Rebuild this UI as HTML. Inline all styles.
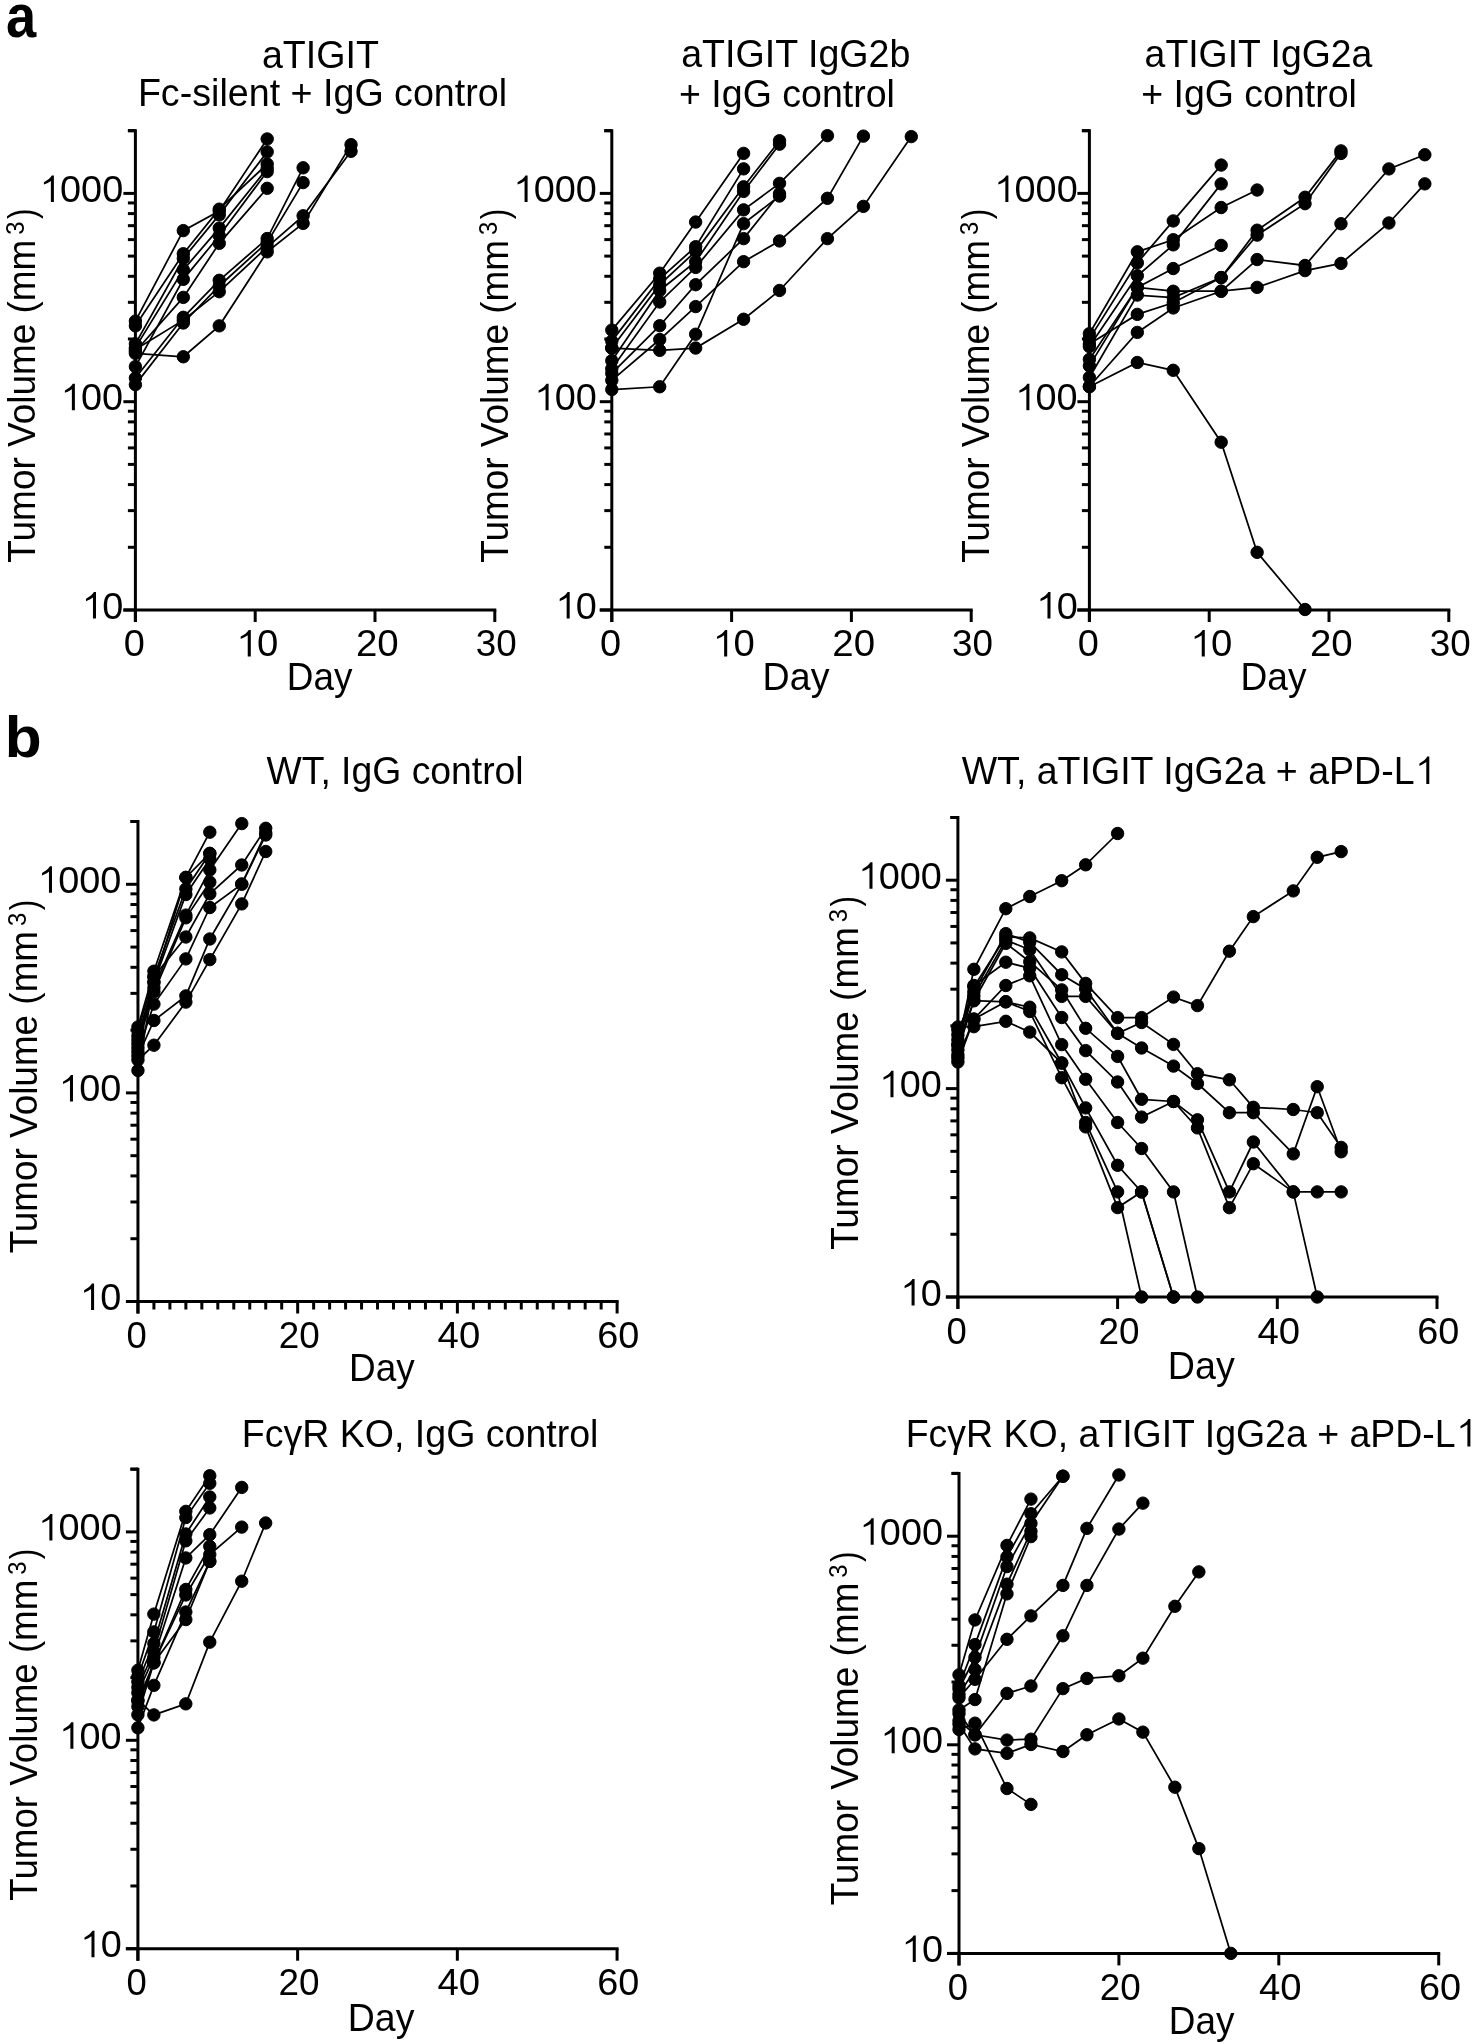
<!DOCTYPE html>
<html><head><meta charset="utf-8"><style>
html,body{margin:0;padding:0;background:#fff;overflow:hidden;width:1476px;height:2044px;}
svg{display:block;will-change:transform;}
text{font-family:"Liberation Sans",sans-serif;fill:#000;}
</style></head><body>
<svg width="1476" height="2044" viewBox="0 0 1476 2044">
<rect width="1476" height="2044" fill="#fff"/>
<g stroke="#000" fill="#000" stroke-linecap="butt">
<path d="M135.40,129.20 V622.00" stroke-width="3.0" fill="none"/>
<path d="M123.40,610.00 H496.30" stroke-width="3.0" fill="none"/>
<line x1="123.40" y1="610.00" x2="135.40" y2="610.00" stroke-width="3"/>
<line x1="127.90" y1="547.30" x2="135.40" y2="547.30" stroke-width="3"/>
<line x1="127.90" y1="510.62" x2="135.40" y2="510.62" stroke-width="3"/>
<line x1="127.90" y1="484.59" x2="135.40" y2="484.59" stroke-width="3"/>
<line x1="127.90" y1="464.40" x2="135.40" y2="464.40" stroke-width="3"/>
<line x1="127.90" y1="447.91" x2="135.40" y2="447.91" stroke-width="3"/>
<line x1="127.90" y1="433.97" x2="135.40" y2="433.97" stroke-width="3"/>
<line x1="127.90" y1="421.89" x2="135.40" y2="421.89" stroke-width="3"/>
<line x1="127.90" y1="411.23" x2="135.40" y2="411.23" stroke-width="3"/>
<line x1="123.40" y1="401.70" x2="135.40" y2="401.70" stroke-width="3"/>
<line x1="127.90" y1="339.00" x2="135.40" y2="339.00" stroke-width="3"/>
<line x1="127.90" y1="302.32" x2="135.40" y2="302.32" stroke-width="3"/>
<line x1="127.90" y1="276.29" x2="135.40" y2="276.29" stroke-width="3"/>
<line x1="127.90" y1="256.10" x2="135.40" y2="256.10" stroke-width="3"/>
<line x1="127.90" y1="239.61" x2="135.40" y2="239.61" stroke-width="3"/>
<line x1="127.90" y1="225.67" x2="135.40" y2="225.67" stroke-width="3"/>
<line x1="127.90" y1="213.59" x2="135.40" y2="213.59" stroke-width="3"/>
<line x1="127.90" y1="202.93" x2="135.40" y2="202.93" stroke-width="3"/>
<line x1="123.40" y1="193.40" x2="135.40" y2="193.40" stroke-width="3"/>
<line x1="127.90" y1="130.70" x2="135.40" y2="130.70" stroke-width="3"/>
<line x1="127.90" y1="130.70" x2="135.40" y2="130.70" stroke-width="3"/>
<line x1="135.40" y1="610.00" x2="135.40" y2="622.00" stroke-width="3"/>
<line x1="255.20" y1="610.00" x2="255.20" y2="622.00" stroke-width="3"/>
<line x1="375.00" y1="610.00" x2="375.00" y2="622.00" stroke-width="3"/>
<line x1="494.80" y1="610.00" x2="494.80" y2="622.00" stroke-width="3"/>
<path d="M611.80,129.20 V622.00" stroke-width="3.0" fill="none"/>
<path d="M599.80,610.00 H972.70" stroke-width="3.0" fill="none"/>
<line x1="599.80" y1="610.00" x2="611.80" y2="610.00" stroke-width="3"/>
<line x1="604.30" y1="547.30" x2="611.80" y2="547.30" stroke-width="3"/>
<line x1="604.30" y1="510.62" x2="611.80" y2="510.62" stroke-width="3"/>
<line x1="604.30" y1="484.59" x2="611.80" y2="484.59" stroke-width="3"/>
<line x1="604.30" y1="464.40" x2="611.80" y2="464.40" stroke-width="3"/>
<line x1="604.30" y1="447.91" x2="611.80" y2="447.91" stroke-width="3"/>
<line x1="604.30" y1="433.97" x2="611.80" y2="433.97" stroke-width="3"/>
<line x1="604.30" y1="421.89" x2="611.80" y2="421.89" stroke-width="3"/>
<line x1="604.30" y1="411.23" x2="611.80" y2="411.23" stroke-width="3"/>
<line x1="599.80" y1="401.70" x2="611.80" y2="401.70" stroke-width="3"/>
<line x1="604.30" y1="339.00" x2="611.80" y2="339.00" stroke-width="3"/>
<line x1="604.30" y1="302.32" x2="611.80" y2="302.32" stroke-width="3"/>
<line x1="604.30" y1="276.29" x2="611.80" y2="276.29" stroke-width="3"/>
<line x1="604.30" y1="256.10" x2="611.80" y2="256.10" stroke-width="3"/>
<line x1="604.30" y1="239.61" x2="611.80" y2="239.61" stroke-width="3"/>
<line x1="604.30" y1="225.67" x2="611.80" y2="225.67" stroke-width="3"/>
<line x1="604.30" y1="213.59" x2="611.80" y2="213.59" stroke-width="3"/>
<line x1="604.30" y1="202.93" x2="611.80" y2="202.93" stroke-width="3"/>
<line x1="599.80" y1="193.40" x2="611.80" y2="193.40" stroke-width="3"/>
<line x1="604.30" y1="130.70" x2="611.80" y2="130.70" stroke-width="3"/>
<line x1="604.30" y1="130.70" x2="611.80" y2="130.70" stroke-width="3"/>
<line x1="611.80" y1="610.00" x2="611.80" y2="622.00" stroke-width="3"/>
<line x1="731.60" y1="610.00" x2="731.60" y2="622.00" stroke-width="3"/>
<line x1="851.40" y1="610.00" x2="851.40" y2="622.00" stroke-width="3"/>
<line x1="971.20" y1="610.00" x2="971.20" y2="622.00" stroke-width="3"/>
<path d="M1089.40,129.20 V622.00" stroke-width="3.0" fill="none"/>
<path d="M1077.40,610.00 H1450.30" stroke-width="3.0" fill="none"/>
<line x1="1077.40" y1="610.00" x2="1089.40" y2="610.00" stroke-width="3"/>
<line x1="1081.90" y1="547.30" x2="1089.40" y2="547.30" stroke-width="3"/>
<line x1="1081.90" y1="510.62" x2="1089.40" y2="510.62" stroke-width="3"/>
<line x1="1081.90" y1="484.59" x2="1089.40" y2="484.59" stroke-width="3"/>
<line x1="1081.90" y1="464.40" x2="1089.40" y2="464.40" stroke-width="3"/>
<line x1="1081.90" y1="447.91" x2="1089.40" y2="447.91" stroke-width="3"/>
<line x1="1081.90" y1="433.97" x2="1089.40" y2="433.97" stroke-width="3"/>
<line x1="1081.90" y1="421.89" x2="1089.40" y2="421.89" stroke-width="3"/>
<line x1="1081.90" y1="411.23" x2="1089.40" y2="411.23" stroke-width="3"/>
<line x1="1077.40" y1="401.70" x2="1089.40" y2="401.70" stroke-width="3"/>
<line x1="1081.90" y1="339.00" x2="1089.40" y2="339.00" stroke-width="3"/>
<line x1="1081.90" y1="302.32" x2="1089.40" y2="302.32" stroke-width="3"/>
<line x1="1081.90" y1="276.29" x2="1089.40" y2="276.29" stroke-width="3"/>
<line x1="1081.90" y1="256.10" x2="1089.40" y2="256.10" stroke-width="3"/>
<line x1="1081.90" y1="239.61" x2="1089.40" y2="239.61" stroke-width="3"/>
<line x1="1081.90" y1="225.67" x2="1089.40" y2="225.67" stroke-width="3"/>
<line x1="1081.90" y1="213.59" x2="1089.40" y2="213.59" stroke-width="3"/>
<line x1="1081.90" y1="202.93" x2="1089.40" y2="202.93" stroke-width="3"/>
<line x1="1077.40" y1="193.40" x2="1089.40" y2="193.40" stroke-width="3"/>
<line x1="1081.90" y1="130.70" x2="1089.40" y2="130.70" stroke-width="3"/>
<line x1="1081.90" y1="130.70" x2="1089.40" y2="130.70" stroke-width="3"/>
<line x1="1089.40" y1="610.00" x2="1089.40" y2="622.00" stroke-width="3"/>
<line x1="1209.20" y1="610.00" x2="1209.20" y2="622.00" stroke-width="3"/>
<line x1="1329.00" y1="610.00" x2="1329.00" y2="622.00" stroke-width="3"/>
<line x1="1448.80" y1="610.00" x2="1448.80" y2="622.00" stroke-width="3"/>
<path d="M137.95,820.01 V1313.50" stroke-width="3.0" fill="none"/>
<path d="M125.95,1301.50 H618.61" stroke-width="3.0" fill="none"/>
<line x1="125.95" y1="1301.50" x2="137.95" y2="1301.50" stroke-width="3"/>
<line x1="130.45" y1="1238.71" x2="137.95" y2="1238.71" stroke-width="3"/>
<line x1="130.45" y1="1201.97" x2="137.95" y2="1201.97" stroke-width="3"/>
<line x1="130.45" y1="1175.91" x2="137.95" y2="1175.91" stroke-width="3"/>
<line x1="130.45" y1="1155.69" x2="137.95" y2="1155.69" stroke-width="3"/>
<line x1="130.45" y1="1139.18" x2="137.95" y2="1139.18" stroke-width="3"/>
<line x1="130.45" y1="1125.21" x2="137.95" y2="1125.21" stroke-width="3"/>
<line x1="130.45" y1="1113.12" x2="137.95" y2="1113.12" stroke-width="3"/>
<line x1="130.45" y1="1102.45" x2="137.95" y2="1102.45" stroke-width="3"/>
<line x1="125.95" y1="1092.90" x2="137.95" y2="1092.90" stroke-width="3"/>
<line x1="130.45" y1="1030.11" x2="137.95" y2="1030.11" stroke-width="3"/>
<line x1="130.45" y1="993.37" x2="137.95" y2="993.37" stroke-width="3"/>
<line x1="130.45" y1="967.31" x2="137.95" y2="967.31" stroke-width="3"/>
<line x1="130.45" y1="947.09" x2="137.95" y2="947.09" stroke-width="3"/>
<line x1="130.45" y1="930.58" x2="137.95" y2="930.58" stroke-width="3"/>
<line x1="130.45" y1="916.61" x2="137.95" y2="916.61" stroke-width="3"/>
<line x1="130.45" y1="904.52" x2="137.95" y2="904.52" stroke-width="3"/>
<line x1="130.45" y1="893.85" x2="137.95" y2="893.85" stroke-width="3"/>
<line x1="125.95" y1="884.30" x2="137.95" y2="884.30" stroke-width="3"/>
<line x1="130.45" y1="821.51" x2="137.95" y2="821.51" stroke-width="3"/>
<line x1="130.45" y1="821.51" x2="137.95" y2="821.51" stroke-width="3"/>
<line x1="137.95" y1="1301.50" x2="137.95" y2="1313.50" stroke-width="3"/>
<line x1="297.67" y1="1301.50" x2="297.67" y2="1313.50" stroke-width="3"/>
<line x1="457.39" y1="1301.50" x2="457.39" y2="1313.50" stroke-width="3"/>
<line x1="617.11" y1="1301.50" x2="617.11" y2="1313.50" stroke-width="3"/>
<line x1="153.92" y1="1301.50" x2="153.92" y2="1309.50" stroke-width="3"/>
<line x1="169.89" y1="1301.50" x2="169.89" y2="1309.50" stroke-width="3"/>
<line x1="185.87" y1="1301.50" x2="185.87" y2="1309.50" stroke-width="3"/>
<line x1="201.84" y1="1301.50" x2="201.84" y2="1309.50" stroke-width="3"/>
<line x1="217.81" y1="1301.50" x2="217.81" y2="1309.50" stroke-width="3"/>
<line x1="233.78" y1="1301.50" x2="233.78" y2="1309.50" stroke-width="3"/>
<line x1="249.75" y1="1301.50" x2="249.75" y2="1309.50" stroke-width="3"/>
<line x1="265.73" y1="1301.50" x2="265.73" y2="1309.50" stroke-width="3"/>
<line x1="281.70" y1="1301.50" x2="281.70" y2="1309.50" stroke-width="3"/>
<line x1="313.64" y1="1301.50" x2="313.64" y2="1309.50" stroke-width="3"/>
<line x1="329.61" y1="1301.50" x2="329.61" y2="1309.50" stroke-width="3"/>
<line x1="345.59" y1="1301.50" x2="345.59" y2="1309.50" stroke-width="3"/>
<line x1="361.56" y1="1301.50" x2="361.56" y2="1309.50" stroke-width="3"/>
<line x1="377.53" y1="1301.50" x2="377.53" y2="1309.50" stroke-width="3"/>
<line x1="393.50" y1="1301.50" x2="393.50" y2="1309.50" stroke-width="3"/>
<line x1="409.47" y1="1301.50" x2="409.47" y2="1309.50" stroke-width="3"/>
<line x1="425.45" y1="1301.50" x2="425.45" y2="1309.50" stroke-width="3"/>
<line x1="441.42" y1="1301.50" x2="441.42" y2="1309.50" stroke-width="3"/>
<line x1="473.36" y1="1301.50" x2="473.36" y2="1309.50" stroke-width="3"/>
<line x1="489.33" y1="1301.50" x2="489.33" y2="1309.50" stroke-width="3"/>
<line x1="505.31" y1="1301.50" x2="505.31" y2="1309.50" stroke-width="3"/>
<line x1="521.28" y1="1301.50" x2="521.28" y2="1309.50" stroke-width="3"/>
<line x1="537.25" y1="1301.50" x2="537.25" y2="1309.50" stroke-width="3"/>
<line x1="553.22" y1="1301.50" x2="553.22" y2="1309.50" stroke-width="3"/>
<line x1="569.19" y1="1301.50" x2="569.19" y2="1309.50" stroke-width="3"/>
<line x1="585.17" y1="1301.50" x2="585.17" y2="1309.50" stroke-width="3"/>
<line x1="601.14" y1="1301.50" x2="601.14" y2="1309.50" stroke-width="3"/>
<path d="M957.90,815.97 V1309.00" stroke-width="3.0" fill="none"/>
<path d="M945.90,1297.00 H1438.50" stroke-width="3.0" fill="none"/>
<line x1="945.90" y1="1297.00" x2="957.90" y2="1297.00" stroke-width="3"/>
<line x1="950.40" y1="1234.27" x2="957.90" y2="1234.27" stroke-width="3"/>
<line x1="950.40" y1="1197.57" x2="957.90" y2="1197.57" stroke-width="3"/>
<line x1="950.40" y1="1171.53" x2="957.90" y2="1171.53" stroke-width="3"/>
<line x1="950.40" y1="1151.33" x2="957.90" y2="1151.33" stroke-width="3"/>
<line x1="950.40" y1="1134.83" x2="957.90" y2="1134.83" stroke-width="3"/>
<line x1="950.40" y1="1120.88" x2="957.90" y2="1120.88" stroke-width="3"/>
<line x1="950.40" y1="1108.80" x2="957.90" y2="1108.80" stroke-width="3"/>
<line x1="950.40" y1="1098.14" x2="957.90" y2="1098.14" stroke-width="3"/>
<line x1="945.90" y1="1088.60" x2="957.90" y2="1088.60" stroke-width="3"/>
<line x1="950.40" y1="1025.87" x2="957.90" y2="1025.87" stroke-width="3"/>
<line x1="950.40" y1="989.17" x2="957.90" y2="989.17" stroke-width="3"/>
<line x1="950.40" y1="963.13" x2="957.90" y2="963.13" stroke-width="3"/>
<line x1="950.40" y1="942.93" x2="957.90" y2="942.93" stroke-width="3"/>
<line x1="950.40" y1="926.43" x2="957.90" y2="926.43" stroke-width="3"/>
<line x1="950.40" y1="912.48" x2="957.90" y2="912.48" stroke-width="3"/>
<line x1="950.40" y1="900.40" x2="957.90" y2="900.40" stroke-width="3"/>
<line x1="950.40" y1="889.74" x2="957.90" y2="889.74" stroke-width="3"/>
<line x1="945.90" y1="880.20" x2="957.90" y2="880.20" stroke-width="3"/>
<line x1="950.40" y1="817.47" x2="957.90" y2="817.47" stroke-width="3"/>
<line x1="950.40" y1="817.47" x2="957.90" y2="817.47" stroke-width="3"/>
<line x1="957.90" y1="1297.00" x2="957.90" y2="1309.00" stroke-width="3"/>
<line x1="1117.60" y1="1297.00" x2="1117.60" y2="1309.00" stroke-width="3"/>
<line x1="1277.30" y1="1297.00" x2="1277.30" y2="1309.00" stroke-width="3"/>
<line x1="1437.00" y1="1297.00" x2="1437.00" y2="1309.00" stroke-width="3"/>
<path d="M137.90,1467.67 V1960.70" stroke-width="3.0" fill="none"/>
<path d="M125.90,1948.70 H618.56" stroke-width="3.0" fill="none"/>
<line x1="125.90" y1="1948.70" x2="137.90" y2="1948.70" stroke-width="3"/>
<line x1="130.40" y1="1885.97" x2="137.90" y2="1885.97" stroke-width="3"/>
<line x1="130.40" y1="1849.27" x2="137.90" y2="1849.27" stroke-width="3"/>
<line x1="130.40" y1="1823.23" x2="137.90" y2="1823.23" stroke-width="3"/>
<line x1="130.40" y1="1803.03" x2="137.90" y2="1803.03" stroke-width="3"/>
<line x1="130.40" y1="1786.53" x2="137.90" y2="1786.53" stroke-width="3"/>
<line x1="130.40" y1="1772.58" x2="137.90" y2="1772.58" stroke-width="3"/>
<line x1="130.40" y1="1760.50" x2="137.90" y2="1760.50" stroke-width="3"/>
<line x1="130.40" y1="1749.84" x2="137.90" y2="1749.84" stroke-width="3"/>
<line x1="125.90" y1="1740.30" x2="137.90" y2="1740.30" stroke-width="3"/>
<line x1="130.40" y1="1677.57" x2="137.90" y2="1677.57" stroke-width="3"/>
<line x1="130.40" y1="1640.87" x2="137.90" y2="1640.87" stroke-width="3"/>
<line x1="130.40" y1="1614.83" x2="137.90" y2="1614.83" stroke-width="3"/>
<line x1="130.40" y1="1594.63" x2="137.90" y2="1594.63" stroke-width="3"/>
<line x1="130.40" y1="1578.13" x2="137.90" y2="1578.13" stroke-width="3"/>
<line x1="130.40" y1="1564.18" x2="137.90" y2="1564.18" stroke-width="3"/>
<line x1="130.40" y1="1552.10" x2="137.90" y2="1552.10" stroke-width="3"/>
<line x1="130.40" y1="1541.44" x2="137.90" y2="1541.44" stroke-width="3"/>
<line x1="125.90" y1="1531.90" x2="137.90" y2="1531.90" stroke-width="3"/>
<line x1="130.40" y1="1469.17" x2="137.90" y2="1469.17" stroke-width="3"/>
<line x1="130.40" y1="1469.17" x2="137.90" y2="1469.17" stroke-width="3"/>
<line x1="137.90" y1="1948.70" x2="137.90" y2="1960.70" stroke-width="3"/>
<line x1="297.62" y1="1948.70" x2="297.62" y2="1960.70" stroke-width="3"/>
<line x1="457.34" y1="1948.70" x2="457.34" y2="1960.70" stroke-width="3"/>
<line x1="617.06" y1="1948.70" x2="617.06" y2="1960.70" stroke-width="3"/>
<path d="M959.00,1471.91 V1965.40" stroke-width="3.0" fill="none"/>
<path d="M947.00,1953.40 H1440.20" stroke-width="3.0" fill="none"/>
<line x1="947.00" y1="1953.40" x2="959.00" y2="1953.40" stroke-width="3"/>
<line x1="951.50" y1="1890.61" x2="959.00" y2="1890.61" stroke-width="3"/>
<line x1="951.50" y1="1853.87" x2="959.00" y2="1853.87" stroke-width="3"/>
<line x1="951.50" y1="1827.81" x2="959.00" y2="1827.81" stroke-width="3"/>
<line x1="951.50" y1="1807.59" x2="959.00" y2="1807.59" stroke-width="3"/>
<line x1="951.50" y1="1791.08" x2="959.00" y2="1791.08" stroke-width="3"/>
<line x1="951.50" y1="1777.11" x2="959.00" y2="1777.11" stroke-width="3"/>
<line x1="951.50" y1="1765.02" x2="959.00" y2="1765.02" stroke-width="3"/>
<line x1="951.50" y1="1754.35" x2="959.00" y2="1754.35" stroke-width="3"/>
<line x1="947.00" y1="1744.80" x2="959.00" y2="1744.80" stroke-width="3"/>
<line x1="951.50" y1="1682.01" x2="959.00" y2="1682.01" stroke-width="3"/>
<line x1="951.50" y1="1645.27" x2="959.00" y2="1645.27" stroke-width="3"/>
<line x1="951.50" y1="1619.21" x2="959.00" y2="1619.21" stroke-width="3"/>
<line x1="951.50" y1="1598.99" x2="959.00" y2="1598.99" stroke-width="3"/>
<line x1="951.50" y1="1582.48" x2="959.00" y2="1582.48" stroke-width="3"/>
<line x1="951.50" y1="1568.51" x2="959.00" y2="1568.51" stroke-width="3"/>
<line x1="951.50" y1="1556.42" x2="959.00" y2="1556.42" stroke-width="3"/>
<line x1="951.50" y1="1545.75" x2="959.00" y2="1545.75" stroke-width="3"/>
<line x1="947.00" y1="1536.20" x2="959.00" y2="1536.20" stroke-width="3"/>
<line x1="951.50" y1="1473.41" x2="959.00" y2="1473.41" stroke-width="3"/>
<line x1="951.50" y1="1473.41" x2="959.00" y2="1473.41" stroke-width="3"/>
<line x1="959.00" y1="1953.40" x2="959.00" y2="1965.40" stroke-width="3"/>
<line x1="1118.90" y1="1953.40" x2="1118.90" y2="1965.40" stroke-width="3"/>
<line x1="1278.80" y1="1953.40" x2="1278.80" y2="1965.40" stroke-width="3"/>
<line x1="1438.70" y1="1953.40" x2="1438.70" y2="1965.40" stroke-width="3"/>
<polyline points="135.40,321.10 183.32,230.61 219.26,211.06 267.18,138.97" fill="none" stroke-width="1.75"/>
<polyline points="135.40,325.84 183.32,253.75 219.26,209.17 267.18,164.01" fill="none" stroke-width="1.75"/>
<polyline points="135.40,343.87 183.32,258.49 219.26,214.86 267.18,151.87" fill="none" stroke-width="1.75"/>
<polyline points="135.40,347.66 183.32,269.88 219.26,228.14 267.18,168.38" fill="none" stroke-width="1.75"/>
<polyline points="135.40,366.63 183.32,279.36 219.26,235.73 267.18,171.60" fill="none" stroke-width="1.75"/>
<polyline points="135.40,351.46 183.32,297.39 219.26,243.32 267.18,188.30" fill="none" stroke-width="1.75"/>
<polyline points="135.40,378.02 183.32,317.31 219.26,280.31 267.18,238.57 303.12,167.81" fill="none" stroke-width="1.75"/>
<polyline points="135.40,384.66 183.32,323.00 219.26,286.00 267.18,242.37 303.12,182.61" fill="none" stroke-width="1.75"/>
<polyline points="135.40,349.56 183.32,320.15 219.26,291.69 267.18,247.11 303.12,215.81 351.04,151.30" fill="none" stroke-width="1.75"/>
<polyline points="135.40,353.35 183.32,356.77 219.26,325.84 267.18,251.85 303.12,223.40 351.04,144.66" fill="none" stroke-width="1.75"/>
<circle cx="135.40" cy="321.10" r="6.2"/>
<circle cx="183.32" cy="230.61" r="6.2"/>
<circle cx="219.26" cy="211.06" r="6.2"/>
<circle cx="267.18" cy="138.97" r="6.2"/>
<circle cx="135.40" cy="325.84" r="6.2"/>
<circle cx="183.32" cy="253.75" r="6.2"/>
<circle cx="219.26" cy="209.17" r="6.2"/>
<circle cx="267.18" cy="164.01" r="6.2"/>
<circle cx="135.40" cy="343.87" r="6.2"/>
<circle cx="183.32" cy="258.49" r="6.2"/>
<circle cx="219.26" cy="214.86" r="6.2"/>
<circle cx="267.18" cy="151.87" r="6.2"/>
<circle cx="135.40" cy="347.66" r="6.2"/>
<circle cx="183.32" cy="269.88" r="6.2"/>
<circle cx="219.26" cy="228.14" r="6.2"/>
<circle cx="267.18" cy="168.38" r="6.2"/>
<circle cx="135.40" cy="366.63" r="6.2"/>
<circle cx="183.32" cy="279.36" r="6.2"/>
<circle cx="219.26" cy="235.73" r="6.2"/>
<circle cx="267.18" cy="171.60" r="6.2"/>
<circle cx="135.40" cy="351.46" r="6.2"/>
<circle cx="183.32" cy="297.39" r="6.2"/>
<circle cx="219.26" cy="243.32" r="6.2"/>
<circle cx="267.18" cy="188.30" r="6.2"/>
<circle cx="135.40" cy="378.02" r="6.2"/>
<circle cx="183.32" cy="317.31" r="6.2"/>
<circle cx="219.26" cy="280.31" r="6.2"/>
<circle cx="267.18" cy="238.57" r="6.2"/>
<circle cx="303.12" cy="167.81" r="6.2"/>
<circle cx="135.40" cy="384.66" r="6.2"/>
<circle cx="183.32" cy="323.00" r="6.2"/>
<circle cx="219.26" cy="286.00" r="6.2"/>
<circle cx="267.18" cy="242.37" r="6.2"/>
<circle cx="303.12" cy="182.61" r="6.2"/>
<circle cx="135.40" cy="349.56" r="6.2"/>
<circle cx="183.32" cy="320.15" r="6.2"/>
<circle cx="219.26" cy="291.69" r="6.2"/>
<circle cx="267.18" cy="247.11" r="6.2"/>
<circle cx="303.12" cy="215.81" r="6.2"/>
<circle cx="351.04" cy="151.30" r="6.2"/>
<circle cx="135.40" cy="353.35" r="6.2"/>
<circle cx="183.32" cy="356.77" r="6.2"/>
<circle cx="219.26" cy="325.84" r="6.2"/>
<circle cx="267.18" cy="251.85" r="6.2"/>
<circle cx="303.12" cy="223.40" r="6.2"/>
<circle cx="351.04" cy="144.66" r="6.2"/>
<polyline points="611.80,330.09 659.72,273.19 695.66,222.05 743.58,153.40" fill="none" stroke-width="1.75"/>
<polyline points="611.80,341.15 659.72,278.95 695.66,246.70 743.58,168.84" fill="none" stroke-width="1.75"/>
<polyline points="611.80,348.06 659.72,284.71 695.66,251.31 743.58,186.80 779.52,140.73" fill="none" stroke-width="1.75"/>
<polyline points="611.80,360.73 659.72,290.47 695.66,261.67 743.58,191.41 779.52,144.19" fill="none" stroke-width="1.75"/>
<polyline points="611.80,368.79 659.72,301.99 695.66,267.43 743.58,209.84 779.52,183.35 827.44,135.66" fill="none" stroke-width="1.75"/>
<polyline points="611.80,373.40 659.72,325.71 695.66,284.71 743.58,238.64 779.52,193.72" fill="none" stroke-width="1.75"/>
<polyline points="611.80,380.31 659.72,339.53 695.66,306.59 743.58,261.67 779.52,240.94 827.44,198.32 863.38,136.13" fill="none" stroke-width="1.75"/>
<polyline points="611.80,389.52 659.72,386.76 695.66,334.24 743.58,223.66 779.52,196.02" fill="none" stroke-width="1.75"/>
<polyline points="611.80,348.06 659.72,350.36 695.66,348.06 743.58,319.26 779.52,290.47 827.44,238.64 863.38,206.39 911.30,136.59" fill="none" stroke-width="1.75"/>
<circle cx="611.80" cy="330.09" r="6.2"/>
<circle cx="659.72" cy="273.19" r="6.2"/>
<circle cx="695.66" cy="222.05" r="6.2"/>
<circle cx="743.58" cy="153.40" r="6.2"/>
<circle cx="611.80" cy="341.15" r="6.2"/>
<circle cx="659.72" cy="278.95" r="6.2"/>
<circle cx="695.66" cy="246.70" r="6.2"/>
<circle cx="743.58" cy="168.84" r="6.2"/>
<circle cx="611.80" cy="348.06" r="6.2"/>
<circle cx="659.72" cy="284.71" r="6.2"/>
<circle cx="695.66" cy="251.31" r="6.2"/>
<circle cx="743.58" cy="186.80" r="6.2"/>
<circle cx="779.52" cy="140.73" r="6.2"/>
<circle cx="611.80" cy="360.73" r="6.2"/>
<circle cx="659.72" cy="290.47" r="6.2"/>
<circle cx="695.66" cy="261.67" r="6.2"/>
<circle cx="743.58" cy="191.41" r="6.2"/>
<circle cx="779.52" cy="144.19" r="6.2"/>
<circle cx="611.80" cy="368.79" r="6.2"/>
<circle cx="659.72" cy="301.99" r="6.2"/>
<circle cx="695.66" cy="267.43" r="6.2"/>
<circle cx="743.58" cy="209.84" r="6.2"/>
<circle cx="779.52" cy="183.35" r="6.2"/>
<circle cx="827.44" cy="135.66" r="6.2"/>
<circle cx="611.80" cy="373.40" r="6.2"/>
<circle cx="659.72" cy="325.71" r="6.2"/>
<circle cx="695.66" cy="284.71" r="6.2"/>
<circle cx="743.58" cy="238.64" r="6.2"/>
<circle cx="779.52" cy="193.72" r="6.2"/>
<circle cx="611.80" cy="380.31" r="6.2"/>
<circle cx="659.72" cy="339.53" r="6.2"/>
<circle cx="695.66" cy="306.59" r="6.2"/>
<circle cx="743.58" cy="261.67" r="6.2"/>
<circle cx="779.52" cy="240.94" r="6.2"/>
<circle cx="827.44" cy="198.32" r="6.2"/>
<circle cx="863.38" cy="136.13" r="6.2"/>
<circle cx="611.80" cy="389.52" r="6.2"/>
<circle cx="659.72" cy="386.76" r="6.2"/>
<circle cx="695.66" cy="334.24" r="6.2"/>
<circle cx="743.58" cy="223.66" r="6.2"/>
<circle cx="779.52" cy="196.02" r="6.2"/>
<circle cx="611.80" cy="348.06" r="6.2"/>
<circle cx="659.72" cy="350.36" r="6.2"/>
<circle cx="695.66" cy="348.06" r="6.2"/>
<circle cx="743.58" cy="319.26" r="6.2"/>
<circle cx="779.52" cy="290.47" r="6.2"/>
<circle cx="827.44" cy="238.64" r="6.2"/>
<circle cx="863.38" cy="206.39" r="6.2"/>
<circle cx="911.30" cy="136.59" r="6.2"/>
<polyline points="1089.40,333.70 1137.32,251.82 1173.26,239.72 1221.18,207.54 1257.12,190.03" fill="none" stroke-width="1.75"/>
<polyline points="1089.40,338.85 1137.32,262.89 1173.26,220.93 1221.18,165.06" fill="none" stroke-width="1.75"/>
<polyline points="1089.40,346.57 1137.32,275.77 1173.26,244.87 1221.18,183.85" fill="none" stroke-width="1.75"/>
<polyline points="1089.40,359.44 1137.32,287.35 1173.26,268.56 1221.18,245.39" fill="none" stroke-width="1.75"/>
<polyline points="1089.40,365.88 1137.32,287.35 1173.26,291.22 1221.18,291.22 1257.12,287.35 1305.04,270.62 1340.98,263.41 1388.90,222.99 1424.84,183.85" fill="none" stroke-width="1.75"/>
<polyline points="1089.40,377.47 1137.32,295.08 1173.26,297.65 1221.18,277.57 1257.12,235.09 1305.04,203.68 1340.98,153.47" fill="none" stroke-width="1.75"/>
<polyline points="1089.40,344.00 1137.32,314.39 1173.26,302.80 1221.18,277.57 1257.12,230.20 1305.04,197.24 1340.98,150.90" fill="none" stroke-width="1.75"/>
<polyline points="1089.40,386.48 1137.32,332.41 1173.26,307.95 1221.18,291.22 1257.12,259.55 1305.04,265.47 1340.98,223.76 1388.90,168.92 1424.84,154.76" fill="none" stroke-width="1.75"/>
<polyline points="1089.40,386.70 1137.32,362.50 1173.26,370.30 1221.18,442.20 1257.12,552.30 1305.04,609.50" fill="none" stroke-width="1.75"/>
<circle cx="1089.40" cy="333.70" r="6.2"/>
<circle cx="1137.32" cy="251.82" r="6.2"/>
<circle cx="1173.26" cy="239.72" r="6.2"/>
<circle cx="1221.18" cy="207.54" r="6.2"/>
<circle cx="1257.12" cy="190.03" r="6.2"/>
<circle cx="1089.40" cy="338.85" r="6.2"/>
<circle cx="1137.32" cy="262.89" r="6.2"/>
<circle cx="1173.26" cy="220.93" r="6.2"/>
<circle cx="1221.18" cy="165.06" r="6.2"/>
<circle cx="1089.40" cy="346.57" r="6.2"/>
<circle cx="1137.32" cy="275.77" r="6.2"/>
<circle cx="1173.26" cy="244.87" r="6.2"/>
<circle cx="1221.18" cy="183.85" r="6.2"/>
<circle cx="1089.40" cy="359.44" r="6.2"/>
<circle cx="1137.32" cy="287.35" r="6.2"/>
<circle cx="1173.26" cy="268.56" r="6.2"/>
<circle cx="1221.18" cy="245.39" r="6.2"/>
<circle cx="1089.40" cy="365.88" r="6.2"/>
<circle cx="1137.32" cy="287.35" r="6.2"/>
<circle cx="1173.26" cy="291.22" r="6.2"/>
<circle cx="1221.18" cy="291.22" r="6.2"/>
<circle cx="1257.12" cy="287.35" r="6.2"/>
<circle cx="1305.04" cy="270.62" r="6.2"/>
<circle cx="1340.98" cy="263.41" r="6.2"/>
<circle cx="1388.90" cy="222.99" r="6.2"/>
<circle cx="1424.84" cy="183.85" r="6.2"/>
<circle cx="1089.40" cy="377.47" r="6.2"/>
<circle cx="1137.32" cy="295.08" r="6.2"/>
<circle cx="1173.26" cy="297.65" r="6.2"/>
<circle cx="1221.18" cy="277.57" r="6.2"/>
<circle cx="1257.12" cy="235.09" r="6.2"/>
<circle cx="1305.04" cy="203.68" r="6.2"/>
<circle cx="1340.98" cy="153.47" r="6.2"/>
<circle cx="1089.40" cy="344.00" r="6.2"/>
<circle cx="1137.32" cy="314.39" r="6.2"/>
<circle cx="1173.26" cy="302.80" r="6.2"/>
<circle cx="1221.18" cy="277.57" r="6.2"/>
<circle cx="1257.12" cy="230.20" r="6.2"/>
<circle cx="1305.04" cy="197.24" r="6.2"/>
<circle cx="1340.98" cy="150.90" r="6.2"/>
<circle cx="1089.40" cy="386.48" r="6.2"/>
<circle cx="1137.32" cy="332.41" r="6.2"/>
<circle cx="1173.26" cy="307.95" r="6.2"/>
<circle cx="1221.18" cy="291.22" r="6.2"/>
<circle cx="1257.12" cy="259.55" r="6.2"/>
<circle cx="1305.04" cy="265.47" r="6.2"/>
<circle cx="1340.98" cy="223.76" r="6.2"/>
<circle cx="1388.90" cy="168.92" r="6.2"/>
<circle cx="1424.84" cy="154.76" r="6.2"/>
<circle cx="1089.40" cy="386.70" r="6.2"/>
<circle cx="1137.32" cy="362.50" r="6.2"/>
<circle cx="1173.26" cy="370.30" r="6.2"/>
<circle cx="1221.18" cy="442.20" r="6.2"/>
<circle cx="1257.12" cy="552.30" r="6.2"/>
<circle cx="1305.04" cy="609.50" r="6.2"/>
<polyline points="137.95,1027.00 153.92,971.20 185.87,877.40 209.82,832.20" fill="none" stroke-width="1.75"/>
<polyline points="137.95,1031.00 153.92,976.70 185.87,889.00 209.82,853.40" fill="none" stroke-width="1.75"/>
<polyline points="137.95,1036.00 153.92,982.20 185.87,894.50 209.82,858.90" fill="none" stroke-width="1.75"/>
<polyline points="137.95,1040.00 153.92,987.70 185.87,915.10 209.82,869.90 241.77,823.60" fill="none" stroke-width="1.75"/>
<polyline points="137.95,1044.00 153.92,991.80 185.87,917.80 209.82,882.20" fill="none" stroke-width="1.75"/>
<polyline points="137.95,1048.00 153.92,976.70 185.87,937.00 209.82,893.80 241.77,865.00 265.73,828.30" fill="none" stroke-width="1.75"/>
<polyline points="137.95,1052.00 153.92,1004.10 185.87,958.90 209.82,907.50 241.77,884.10 265.73,835.00" fill="none" stroke-width="1.75"/>
<polyline points="137.95,1056.00 153.92,1020.50 185.87,995.90 209.82,939.00 241.77,884.10 265.73,833.00" fill="none" stroke-width="1.75"/>
<polyline points="137.95,1060.00 153.92,1045.20 185.87,1002.10 209.82,959.60 241.77,903.90 265.73,851.50" fill="none" stroke-width="1.75"/>
<polyline points="137.95,1070.50 153.92,982.20 185.87,877.40 209.82,853.40" fill="none" stroke-width="1.75"/>
<circle cx="137.95" cy="1027.00" r="6.2"/>
<circle cx="153.92" cy="971.20" r="6.2"/>
<circle cx="185.87" cy="877.40" r="6.2"/>
<circle cx="209.82" cy="832.20" r="6.2"/>
<circle cx="137.95" cy="1031.00" r="6.2"/>
<circle cx="153.92" cy="976.70" r="6.2"/>
<circle cx="185.87" cy="889.00" r="6.2"/>
<circle cx="209.82" cy="853.40" r="6.2"/>
<circle cx="137.95" cy="1036.00" r="6.2"/>
<circle cx="153.92" cy="982.20" r="6.2"/>
<circle cx="185.87" cy="894.50" r="6.2"/>
<circle cx="209.82" cy="858.90" r="6.2"/>
<circle cx="137.95" cy="1040.00" r="6.2"/>
<circle cx="153.92" cy="987.70" r="6.2"/>
<circle cx="185.87" cy="915.10" r="6.2"/>
<circle cx="209.82" cy="869.90" r="6.2"/>
<circle cx="241.77" cy="823.60" r="6.2"/>
<circle cx="137.95" cy="1044.00" r="6.2"/>
<circle cx="153.92" cy="991.80" r="6.2"/>
<circle cx="185.87" cy="917.80" r="6.2"/>
<circle cx="209.82" cy="882.20" r="6.2"/>
<circle cx="137.95" cy="1048.00" r="6.2"/>
<circle cx="153.92" cy="976.70" r="6.2"/>
<circle cx="185.87" cy="937.00" r="6.2"/>
<circle cx="209.82" cy="893.80" r="6.2"/>
<circle cx="241.77" cy="865.00" r="6.2"/>
<circle cx="265.73" cy="828.30" r="6.2"/>
<circle cx="137.95" cy="1052.00" r="6.2"/>
<circle cx="153.92" cy="1004.10" r="6.2"/>
<circle cx="185.87" cy="958.90" r="6.2"/>
<circle cx="209.82" cy="907.50" r="6.2"/>
<circle cx="241.77" cy="884.10" r="6.2"/>
<circle cx="265.73" cy="835.00" r="6.2"/>
<circle cx="137.95" cy="1056.00" r="6.2"/>
<circle cx="153.92" cy="1020.50" r="6.2"/>
<circle cx="185.87" cy="995.90" r="6.2"/>
<circle cx="209.82" cy="939.00" r="6.2"/>
<circle cx="241.77" cy="884.10" r="6.2"/>
<circle cx="265.73" cy="833.00" r="6.2"/>
<circle cx="137.95" cy="1060.00" r="6.2"/>
<circle cx="153.92" cy="1045.20" r="6.2"/>
<circle cx="185.87" cy="1002.10" r="6.2"/>
<circle cx="209.82" cy="959.60" r="6.2"/>
<circle cx="241.77" cy="903.90" r="6.2"/>
<circle cx="265.73" cy="851.50" r="6.2"/>
<circle cx="137.95" cy="1070.50" r="6.2"/>
<circle cx="153.92" cy="982.20" r="6.2"/>
<circle cx="185.87" cy="877.40" r="6.2"/>
<circle cx="209.82" cy="853.40" r="6.2"/>
<polyline points="957.90,1045.00 973.87,969.30 1005.81,908.70 1029.76,896.50 1061.70,880.70 1085.66,864.80 1117.60,833.50" fill="none" stroke-width="1.75"/>
<polyline points="957.90,1035.00 973.87,987.00 1005.81,936.90 1029.76,937.90 1061.70,951.90 1085.66,983.40 1117.60,1017.60 1141.56,1017.60 1173.49,997.10 1197.45,1005.60 1229.39,951.20 1253.35,916.60 1293.27,890.90 1317.22,857.30 1341.18,851.60" fill="none" stroke-width="1.75"/>
<polyline points="957.90,1040.00 973.87,992.00 1005.81,933.60 1029.76,942.20 1061.70,974.70 1085.66,988.90 1117.60,1033.30 1141.56,1022.50 1173.49,1044.40 1197.45,1073.70 1229.39,1079.80 1253.35,1107.30 1293.27,1109.50 1317.22,1112.70 1341.18,1147.40" fill="none" stroke-width="1.75"/>
<polyline points="957.90,1030.00 973.87,996.00 1005.81,940.00 1029.76,949.80 1061.70,996.40 1085.66,996.40 1117.60,1033.30 1141.56,1048.00 1173.49,1066.10 1197.45,1083.50 1229.39,1112.70 1253.35,1112.70 1293.27,1153.90 1317.22,1086.70 1341.18,1151.80" fill="none" stroke-width="1.75"/>
<polyline points="957.90,1050.00 973.87,1000.70 1005.81,943.40 1029.76,961.70 1061.70,989.90 1085.66,1028.30 1117.60,1056.40 1141.56,1099.30 1173.49,1101.50 1197.45,1119.80 1229.39,1191.90 1253.35,1142.00 1293.27,1191.90 1317.22,1191.90 1341.18,1191.90" fill="none" stroke-width="1.75"/>
<polyline points="957.90,1055.00 973.87,985.50 1005.81,962.20 1029.76,968.20 1061.70,1017.50 1085.66,1050.60 1117.60,1082.00 1141.56,1117.10 1173.49,1101.50 1197.45,1127.90 1229.39,1207.70 1253.35,1163.70 1293.27,1191.90 1317.22,1297.00" fill="none" stroke-width="1.75"/>
<polyline points="957.90,1058.00 973.87,1019.10 1005.81,985.50 1029.76,975.80 1061.70,1044.60 1085.66,1079.30 1117.60,1122.50 1141.56,1148.50 1173.49,1191.90 1197.45,1297.00" fill="none" stroke-width="1.75"/>
<polyline points="957.90,1062.00 973.87,1019.10 1005.81,1001.80 1029.76,1007.20 1061.70,1063.00 1085.66,1107.90 1117.60,1165.30 1141.56,1191.90 1173.49,1297.00" fill="none" stroke-width="1.75"/>
<polyline points="957.90,1045.00 973.87,1000.70 1005.81,1001.80 1029.76,1011.50 1061.70,1077.70 1085.66,1122.50 1117.60,1191.90 1141.56,1297.00" fill="none" stroke-width="1.75"/>
<polyline points="957.90,1027.00 973.87,1026.70 1005.81,1021.30 1029.76,1032.10 1061.70,1063.00 1085.66,1126.90 1117.60,1207.60 1141.56,1191.90 1173.49,1297.00" fill="none" stroke-width="1.75"/>
<circle cx="957.90" cy="1045.00" r="6.2"/>
<circle cx="973.87" cy="969.30" r="6.2"/>
<circle cx="1005.81" cy="908.70" r="6.2"/>
<circle cx="1029.76" cy="896.50" r="6.2"/>
<circle cx="1061.70" cy="880.70" r="6.2"/>
<circle cx="1085.66" cy="864.80" r="6.2"/>
<circle cx="1117.60" cy="833.50" r="6.2"/>
<circle cx="957.90" cy="1035.00" r="6.2"/>
<circle cx="973.87" cy="987.00" r="6.2"/>
<circle cx="1005.81" cy="936.90" r="6.2"/>
<circle cx="1029.76" cy="937.90" r="6.2"/>
<circle cx="1061.70" cy="951.90" r="6.2"/>
<circle cx="1085.66" cy="983.40" r="6.2"/>
<circle cx="1117.60" cy="1017.60" r="6.2"/>
<circle cx="1141.56" cy="1017.60" r="6.2"/>
<circle cx="1173.49" cy="997.10" r="6.2"/>
<circle cx="1197.45" cy="1005.60" r="6.2"/>
<circle cx="1229.39" cy="951.20" r="6.2"/>
<circle cx="1253.35" cy="916.60" r="6.2"/>
<circle cx="1293.27" cy="890.90" r="6.2"/>
<circle cx="1317.22" cy="857.30" r="6.2"/>
<circle cx="1341.18" cy="851.60" r="6.2"/>
<circle cx="957.90" cy="1040.00" r="6.2"/>
<circle cx="973.87" cy="992.00" r="6.2"/>
<circle cx="1005.81" cy="933.60" r="6.2"/>
<circle cx="1029.76" cy="942.20" r="6.2"/>
<circle cx="1061.70" cy="974.70" r="6.2"/>
<circle cx="1085.66" cy="988.90" r="6.2"/>
<circle cx="1117.60" cy="1033.30" r="6.2"/>
<circle cx="1141.56" cy="1022.50" r="6.2"/>
<circle cx="1173.49" cy="1044.40" r="6.2"/>
<circle cx="1197.45" cy="1073.70" r="6.2"/>
<circle cx="1229.39" cy="1079.80" r="6.2"/>
<circle cx="1253.35" cy="1107.30" r="6.2"/>
<circle cx="1293.27" cy="1109.50" r="6.2"/>
<circle cx="1317.22" cy="1112.70" r="6.2"/>
<circle cx="1341.18" cy="1147.40" r="6.2"/>
<circle cx="957.90" cy="1030.00" r="6.2"/>
<circle cx="973.87" cy="996.00" r="6.2"/>
<circle cx="1005.81" cy="940.00" r="6.2"/>
<circle cx="1029.76" cy="949.80" r="6.2"/>
<circle cx="1061.70" cy="996.40" r="6.2"/>
<circle cx="1085.66" cy="996.40" r="6.2"/>
<circle cx="1117.60" cy="1033.30" r="6.2"/>
<circle cx="1141.56" cy="1048.00" r="6.2"/>
<circle cx="1173.49" cy="1066.10" r="6.2"/>
<circle cx="1197.45" cy="1083.50" r="6.2"/>
<circle cx="1229.39" cy="1112.70" r="6.2"/>
<circle cx="1253.35" cy="1112.70" r="6.2"/>
<circle cx="1293.27" cy="1153.90" r="6.2"/>
<circle cx="1317.22" cy="1086.70" r="6.2"/>
<circle cx="1341.18" cy="1151.80" r="6.2"/>
<circle cx="957.90" cy="1050.00" r="6.2"/>
<circle cx="973.87" cy="1000.70" r="6.2"/>
<circle cx="1005.81" cy="943.40" r="6.2"/>
<circle cx="1029.76" cy="961.70" r="6.2"/>
<circle cx="1061.70" cy="989.90" r="6.2"/>
<circle cx="1085.66" cy="1028.30" r="6.2"/>
<circle cx="1117.60" cy="1056.40" r="6.2"/>
<circle cx="1141.56" cy="1099.30" r="6.2"/>
<circle cx="1173.49" cy="1101.50" r="6.2"/>
<circle cx="1197.45" cy="1119.80" r="6.2"/>
<circle cx="1229.39" cy="1191.90" r="6.2"/>
<circle cx="1253.35" cy="1142.00" r="6.2"/>
<circle cx="1293.27" cy="1191.90" r="6.2"/>
<circle cx="1317.22" cy="1191.90" r="6.2"/>
<circle cx="1341.18" cy="1191.90" r="6.2"/>
<circle cx="957.90" cy="1055.00" r="6.2"/>
<circle cx="973.87" cy="985.50" r="6.2"/>
<circle cx="1005.81" cy="962.20" r="6.2"/>
<circle cx="1029.76" cy="968.20" r="6.2"/>
<circle cx="1061.70" cy="1017.50" r="6.2"/>
<circle cx="1085.66" cy="1050.60" r="6.2"/>
<circle cx="1117.60" cy="1082.00" r="6.2"/>
<circle cx="1141.56" cy="1117.10" r="6.2"/>
<circle cx="1173.49" cy="1101.50" r="6.2"/>
<circle cx="1197.45" cy="1127.90" r="6.2"/>
<circle cx="1229.39" cy="1207.70" r="6.2"/>
<circle cx="1253.35" cy="1163.70" r="6.2"/>
<circle cx="1293.27" cy="1191.90" r="6.2"/>
<circle cx="1317.22" cy="1297.00" r="6.2"/>
<circle cx="957.90" cy="1058.00" r="6.2"/>
<circle cx="973.87" cy="1019.10" r="6.2"/>
<circle cx="1005.81" cy="985.50" r="6.2"/>
<circle cx="1029.76" cy="975.80" r="6.2"/>
<circle cx="1061.70" cy="1044.60" r="6.2"/>
<circle cx="1085.66" cy="1079.30" r="6.2"/>
<circle cx="1117.60" cy="1122.50" r="6.2"/>
<circle cx="1141.56" cy="1148.50" r="6.2"/>
<circle cx="1173.49" cy="1191.90" r="6.2"/>
<circle cx="1197.45" cy="1297.00" r="6.2"/>
<circle cx="957.90" cy="1062.00" r="6.2"/>
<circle cx="973.87" cy="1019.10" r="6.2"/>
<circle cx="1005.81" cy="1001.80" r="6.2"/>
<circle cx="1029.76" cy="1007.20" r="6.2"/>
<circle cx="1061.70" cy="1063.00" r="6.2"/>
<circle cx="1085.66" cy="1107.90" r="6.2"/>
<circle cx="1117.60" cy="1165.30" r="6.2"/>
<circle cx="1141.56" cy="1191.90" r="6.2"/>
<circle cx="1173.49" cy="1297.00" r="6.2"/>
<circle cx="957.90" cy="1045.00" r="6.2"/>
<circle cx="973.87" cy="1000.70" r="6.2"/>
<circle cx="1005.81" cy="1001.80" r="6.2"/>
<circle cx="1029.76" cy="1011.50" r="6.2"/>
<circle cx="1061.70" cy="1077.70" r="6.2"/>
<circle cx="1085.66" cy="1122.50" r="6.2"/>
<circle cx="1117.60" cy="1191.90" r="6.2"/>
<circle cx="1141.56" cy="1297.00" r="6.2"/>
<circle cx="957.90" cy="1027.00" r="6.2"/>
<circle cx="973.87" cy="1026.70" r="6.2"/>
<circle cx="1005.81" cy="1021.30" r="6.2"/>
<circle cx="1029.76" cy="1032.10" r="6.2"/>
<circle cx="1061.70" cy="1063.00" r="6.2"/>
<circle cx="1085.66" cy="1126.90" r="6.2"/>
<circle cx="1117.60" cy="1207.60" r="6.2"/>
<circle cx="1141.56" cy="1191.90" r="6.2"/>
<circle cx="1173.49" cy="1297.00" r="6.2"/>
<polyline points="137.90,1670.27 153.87,1614.11 185.82,1511.37 209.77,1475.75" fill="none" stroke-width="1.75"/>
<polyline points="137.90,1676.44 153.87,1631.92 185.82,1517.53 209.77,1483.29" fill="none" stroke-width="1.75"/>
<polyline points="137.90,1681.92 153.87,1643.56 185.82,1533.97 209.77,1496.99" fill="none" stroke-width="1.75"/>
<polyline points="137.90,1687.40 153.87,1651.78 185.82,1540.82 209.77,1507.95" fill="none" stroke-width="1.75"/>
<polyline points="137.90,1692.88 153.87,1657.26 185.82,1557.95 209.77,1534.66 241.72,1487.40" fill="none" stroke-width="1.75"/>
<polyline points="137.90,1701.10 153.87,1662.74 185.82,1589.45 209.77,1546.30" fill="none" stroke-width="1.75"/>
<polyline points="137.90,1706.58 153.87,1662.74 185.82,1594.93 209.77,1554.52 241.72,1527.12" fill="none" stroke-width="1.75"/>
<polyline points="137.90,1727.81 153.87,1685.34 185.82,1612.05 209.77,1561.37" fill="none" stroke-width="1.75"/>
<polyline points="137.90,1714.79 153.87,1662.74 185.82,1619.59 209.77,1561.37" fill="none" stroke-width="1.75"/>
<polyline points="137.90,1700.00 153.87,1714.93 185.82,1703.84 209.77,1642.19 241.72,1581.23 265.68,1523.01" fill="none" stroke-width="1.75"/>
<circle cx="137.90" cy="1670.27" r="6.2"/>
<circle cx="153.87" cy="1614.11" r="6.2"/>
<circle cx="185.82" cy="1511.37" r="6.2"/>
<circle cx="209.77" cy="1475.75" r="6.2"/>
<circle cx="137.90" cy="1676.44" r="6.2"/>
<circle cx="153.87" cy="1631.92" r="6.2"/>
<circle cx="185.82" cy="1517.53" r="6.2"/>
<circle cx="209.77" cy="1483.29" r="6.2"/>
<circle cx="137.90" cy="1681.92" r="6.2"/>
<circle cx="153.87" cy="1643.56" r="6.2"/>
<circle cx="185.82" cy="1533.97" r="6.2"/>
<circle cx="209.77" cy="1496.99" r="6.2"/>
<circle cx="137.90" cy="1687.40" r="6.2"/>
<circle cx="153.87" cy="1651.78" r="6.2"/>
<circle cx="185.82" cy="1540.82" r="6.2"/>
<circle cx="209.77" cy="1507.95" r="6.2"/>
<circle cx="137.90" cy="1692.88" r="6.2"/>
<circle cx="153.87" cy="1657.26" r="6.2"/>
<circle cx="185.82" cy="1557.95" r="6.2"/>
<circle cx="209.77" cy="1534.66" r="6.2"/>
<circle cx="241.72" cy="1487.40" r="6.2"/>
<circle cx="137.90" cy="1701.10" r="6.2"/>
<circle cx="153.87" cy="1662.74" r="6.2"/>
<circle cx="185.82" cy="1589.45" r="6.2"/>
<circle cx="209.77" cy="1546.30" r="6.2"/>
<circle cx="137.90" cy="1706.58" r="6.2"/>
<circle cx="153.87" cy="1662.74" r="6.2"/>
<circle cx="185.82" cy="1594.93" r="6.2"/>
<circle cx="209.77" cy="1554.52" r="6.2"/>
<circle cx="241.72" cy="1527.12" r="6.2"/>
<circle cx="137.90" cy="1727.81" r="6.2"/>
<circle cx="153.87" cy="1685.34" r="6.2"/>
<circle cx="185.82" cy="1612.05" r="6.2"/>
<circle cx="209.77" cy="1561.37" r="6.2"/>
<circle cx="137.90" cy="1714.79" r="6.2"/>
<circle cx="153.87" cy="1662.74" r="6.2"/>
<circle cx="185.82" cy="1619.59" r="6.2"/>
<circle cx="209.77" cy="1561.37" r="6.2"/>
<circle cx="137.90" cy="1700.00" r="6.2"/>
<circle cx="153.87" cy="1714.93" r="6.2"/>
<circle cx="185.82" cy="1703.84" r="6.2"/>
<circle cx="209.77" cy="1642.19" r="6.2"/>
<circle cx="241.72" cy="1581.23" r="6.2"/>
<circle cx="265.68" cy="1523.01" r="6.2"/>
<polyline points="959.00,1674.90 974.99,1619.94 1006.97,1545.43 1030.95,1499.11" fill="none" stroke-width="1.75"/>
<polyline points="959.00,1685.47 974.99,1644.60 1006.97,1556.88 1030.95,1513.73 1062.93,1476.21" fill="none" stroke-width="1.75"/>
<polyline points="959.00,1688.99 974.99,1657.29 1006.97,1566.57 1030.95,1523.41 1062.93,1476.21" fill="none" stroke-width="1.75"/>
<polyline points="959.00,1694.28 974.99,1669.62 1006.97,1584.19 1030.95,1531.34" fill="none" stroke-width="1.75"/>
<polyline points="959.00,1697.80 974.99,1679.31 1006.97,1639.32 1030.95,1615.89 1062.93,1585.42 1086.92,1528.35 1118.90,1474.97" fill="none" stroke-width="1.75"/>
<polyline points="959.00,1709.96 974.99,1699.56 1006.97,1593.87 1030.95,1536.62" fill="none" stroke-width="1.75"/>
<polyline points="959.00,1713.66 974.99,1734.79 1006.97,1693.40 1030.95,1686.00 1062.93,1635.80 1086.92,1585.42 1118.90,1529.05 1142.88,1503.16" fill="none" stroke-width="1.75"/>
<polyline points="959.00,1720.70 974.99,1734.79 1006.97,1740.08 1030.95,1739.20 1062.93,1688.64 1086.92,1678.43 1118.90,1675.78 1142.88,1658.17 1174.87,1606.30 1198.85,1571.90" fill="none" stroke-width="1.75"/>
<polyline points="959.00,1724.22 974.99,1748.88 1006.97,1753.29 1030.95,1744.48 1062.93,1751.53 1086.92,1734.79 1118.90,1718.94 1142.88,1732.15 1174.87,1787.20 1198.85,1848.60 1230.83,1953.40" fill="none" stroke-width="1.75"/>
<polyline points="959.00,1729.51 974.99,1723.17 1006.97,1788.52 1030.95,1804.37" fill="none" stroke-width="1.75"/>
<circle cx="959.00" cy="1674.90" r="6.2"/>
<circle cx="974.99" cy="1619.94" r="6.2"/>
<circle cx="1006.97" cy="1545.43" r="6.2"/>
<circle cx="1030.95" cy="1499.11" r="6.2"/>
<circle cx="959.00" cy="1685.47" r="6.2"/>
<circle cx="974.99" cy="1644.60" r="6.2"/>
<circle cx="1006.97" cy="1556.88" r="6.2"/>
<circle cx="1030.95" cy="1513.73" r="6.2"/>
<circle cx="1062.93" cy="1476.21" r="6.2"/>
<circle cx="959.00" cy="1688.99" r="6.2"/>
<circle cx="974.99" cy="1657.29" r="6.2"/>
<circle cx="1006.97" cy="1566.57" r="6.2"/>
<circle cx="1030.95" cy="1523.41" r="6.2"/>
<circle cx="1062.93" cy="1476.21" r="6.2"/>
<circle cx="959.00" cy="1694.28" r="6.2"/>
<circle cx="974.99" cy="1669.62" r="6.2"/>
<circle cx="1006.97" cy="1584.19" r="6.2"/>
<circle cx="1030.95" cy="1531.34" r="6.2"/>
<circle cx="959.00" cy="1697.80" r="6.2"/>
<circle cx="974.99" cy="1679.31" r="6.2"/>
<circle cx="1006.97" cy="1639.32" r="6.2"/>
<circle cx="1030.95" cy="1615.89" r="6.2"/>
<circle cx="1062.93" cy="1585.42" r="6.2"/>
<circle cx="1086.92" cy="1528.35" r="6.2"/>
<circle cx="1118.90" cy="1474.97" r="6.2"/>
<circle cx="959.00" cy="1709.96" r="6.2"/>
<circle cx="974.99" cy="1699.56" r="6.2"/>
<circle cx="1006.97" cy="1593.87" r="6.2"/>
<circle cx="1030.95" cy="1536.62" r="6.2"/>
<circle cx="959.00" cy="1713.66" r="6.2"/>
<circle cx="974.99" cy="1734.79" r="6.2"/>
<circle cx="1006.97" cy="1693.40" r="6.2"/>
<circle cx="1030.95" cy="1686.00" r="6.2"/>
<circle cx="1062.93" cy="1635.80" r="6.2"/>
<circle cx="1086.92" cy="1585.42" r="6.2"/>
<circle cx="1118.90" cy="1529.05" r="6.2"/>
<circle cx="1142.88" cy="1503.16" r="6.2"/>
<circle cx="959.00" cy="1720.70" r="6.2"/>
<circle cx="974.99" cy="1734.79" r="6.2"/>
<circle cx="1006.97" cy="1740.08" r="6.2"/>
<circle cx="1030.95" cy="1739.20" r="6.2"/>
<circle cx="1062.93" cy="1688.64" r="6.2"/>
<circle cx="1086.92" cy="1678.43" r="6.2"/>
<circle cx="1118.90" cy="1675.78" r="6.2"/>
<circle cx="1142.88" cy="1658.17" r="6.2"/>
<circle cx="1174.87" cy="1606.30" r="6.2"/>
<circle cx="1198.85" cy="1571.90" r="6.2"/>
<circle cx="959.00" cy="1724.22" r="6.2"/>
<circle cx="974.99" cy="1748.88" r="6.2"/>
<circle cx="1006.97" cy="1753.29" r="6.2"/>
<circle cx="1030.95" cy="1744.48" r="6.2"/>
<circle cx="1062.93" cy="1751.53" r="6.2"/>
<circle cx="1086.92" cy="1734.79" r="6.2"/>
<circle cx="1118.90" cy="1718.94" r="6.2"/>
<circle cx="1142.88" cy="1732.15" r="6.2"/>
<circle cx="1174.87" cy="1787.20" r="6.2"/>
<circle cx="1198.85" cy="1848.60" r="6.2"/>
<circle cx="1230.83" cy="1953.40" r="6.2"/>
<circle cx="959.00" cy="1729.51" r="6.2"/>
<circle cx="974.99" cy="1723.17" r="6.2"/>
<circle cx="1006.97" cy="1788.52" r="6.2"/>
<circle cx="1030.95" cy="1804.37" r="6.2"/>
</g>
<g>
<text x="6.07" y="36.60" font-size="61.2" font-weight="bold" textLength="30.18" lengthAdjust="spacingAndGlyphs">a</text>
<text x="4.77" y="757.20" font-size="57.8" font-weight="bold" textLength="36.89" lengthAdjust="spacingAndGlyphs">b</text>
<text x="261.90" y="67.80" font-size="39.0" font-weight="normal" textLength="117.00" lengthAdjust="spacingAndGlyphs">aTIGIT</text>
<text x="137.89" y="106.20" font-size="39.0" font-weight="normal" textLength="369.22" lengthAdjust="spacingAndGlyphs">Fc-silent + IgG control</text>
<text x="681.20" y="67.40" font-size="39.0" font-weight="normal" textLength="229.22" lengthAdjust="spacingAndGlyphs">aTIGIT IgG2b</text>
<text x="679.02" y="106.60" font-size="39.0" font-weight="normal" textLength="215.93" lengthAdjust="spacingAndGlyphs">+ IgG control</text>
<text x="1144.61" y="67.40" font-size="39.0" font-weight="normal" textLength="227.71" lengthAdjust="spacingAndGlyphs">aTIGIT IgG2a</text>
<text x="1141.23" y="106.60" font-size="39.0" font-weight="normal" textLength="215.63" lengthAdjust="spacingAndGlyphs">+ IgG control</text>
<text x="266.51" y="784.20" font-size="39.0" font-weight="normal" textLength="257.14" lengthAdjust="spacingAndGlyphs">WT, IgG control</text>
<path class="one" transform="translate(1414.55,784.00) scale(37.520,39.000)" d="M0.313,0 L0.393,0 L0.393,-0.707 L0.338,-0.707 C0.300,-0.640 0.235,-0.585 0.129,-0.528 L0.129,-0.464 C0.205,-0.492 0.262,-0.525 0.313,-0.562 Z"/>
<text x="961.71" y="784.00" font-size="39.0" font-weight="normal" textLength="473.71" lengthAdjust="spacingAndGlyphs">WT, aTIGIT IgG2a + aPD-L&#x2007;</text>
<text x="241.80" y="1446.50" font-size="39.0" font-weight="normal" textLength="356.64" lengthAdjust="spacingAndGlyphs">Fc&#x3b3;R KO, IgG control</text>
<path class="one" transform="translate(1455.68,1446.50) scale(37.461,39.000)" d="M0.313,0 L0.393,0 L0.393,-0.707 L0.338,-0.707 C0.300,-0.640 0.235,-0.585 0.129,-0.528 L0.129,-0.464 C0.205,-0.492 0.262,-0.525 0.313,-0.562 Z"/>
<text x="905.71" y="1446.50" font-size="39.0" font-weight="normal" textLength="570.80" lengthAdjust="spacingAndGlyphs">Fc&#x3b3;R KO, aTIGIT IgG2a + aPD-L&#x2007;</text>
<text transform="translate(34.80,562.63) rotate(-90)" x="0" y="0" font-size="39.0" textLength="323.03" lengthAdjust="spacingAndGlyphs">Tumor Volume (mm</text>
<text transform="translate(24.00,234.69) rotate(-90)" x="0" y="0" font-size="25.7" textLength="13.23" lengthAdjust="spacingAndGlyphs">3</text>
<text transform="translate(34.80,219.04) rotate(-90)" x="0" y="0" font-size="39.0" textLength="10.53" lengthAdjust="spacingAndGlyphs">)</text>
<text transform="translate(508.00,562.73) rotate(-90)" x="0" y="0" font-size="39.0" textLength="322.83" lengthAdjust="spacingAndGlyphs">Tumor Volume (mm</text>
<text transform="translate(497.20,234.99) rotate(-90)" x="0" y="0" font-size="25.7" textLength="13.23" lengthAdjust="spacingAndGlyphs">3</text>
<text transform="translate(508.00,219.34) rotate(-90)" x="0" y="0" font-size="39.0" textLength="10.53" lengthAdjust="spacingAndGlyphs">)</text>
<text transform="translate(989.00,562.83) rotate(-90)" x="0" y="0" font-size="39.0" textLength="322.93" lengthAdjust="spacingAndGlyphs">Tumor Volume (mm</text>
<text transform="translate(978.20,234.99) rotate(-90)" x="0" y="0" font-size="25.7" textLength="13.23" lengthAdjust="spacingAndGlyphs">3</text>
<text transform="translate(989.00,219.34) rotate(-90)" x="0" y="0" font-size="39.0" textLength="10.53" lengthAdjust="spacingAndGlyphs">)</text>
<text transform="translate(37.20,1253.33) rotate(-90)" x="0" y="0" font-size="39.0" textLength="322.42" lengthAdjust="spacingAndGlyphs">Tumor Volume (mm</text>
<text transform="translate(26.40,925.99) rotate(-90)" x="0" y="0" font-size="25.7" textLength="13.23" lengthAdjust="spacingAndGlyphs">3</text>
<text transform="translate(37.20,910.34) rotate(-90)" x="0" y="0" font-size="39.0" textLength="10.53" lengthAdjust="spacingAndGlyphs">)</text>
<text transform="translate(857.60,1249.83) rotate(-90)" x="0" y="0" font-size="39.0" textLength="322.73" lengthAdjust="spacingAndGlyphs">Tumor Volume (mm</text>
<text transform="translate(846.80,922.19) rotate(-90)" x="0" y="0" font-size="25.7" textLength="13.23" lengthAdjust="spacingAndGlyphs">3</text>
<text transform="translate(857.60,906.54) rotate(-90)" x="0" y="0" font-size="39.0" textLength="10.53" lengthAdjust="spacingAndGlyphs">)</text>
<text transform="translate(37.20,1900.63) rotate(-90)" x="0" y="0" font-size="39.0" textLength="320.91" lengthAdjust="spacingAndGlyphs">Tumor Volume (mm</text>
<text transform="translate(26.40,1574.79) rotate(-90)" x="0" y="0" font-size="25.7" textLength="13.23" lengthAdjust="spacingAndGlyphs">3</text>
<text transform="translate(37.20,1559.14) rotate(-90)" x="0" y="0" font-size="39.0" textLength="10.53" lengthAdjust="spacingAndGlyphs">)</text>
<text transform="translate(857.80,1905.33) rotate(-90)" x="0" y="0" font-size="39.0" textLength="322.73" lengthAdjust="spacingAndGlyphs">Tumor Volume (mm</text>
<text transform="translate(847.00,1577.69) rotate(-90)" x="0" y="0" font-size="25.7" textLength="13.23" lengthAdjust="spacingAndGlyphs">3</text>
<text transform="translate(857.80,1562.04) rotate(-90)" x="0" y="0" font-size="39.0" textLength="10.53" lengthAdjust="spacingAndGlyphs">)</text>
<path class="one" transform="translate(39.02,201.95) scale(37.840,37.500)" d="M0.313,0 L0.393,0 L0.393,-0.707 L0.338,-0.707 C0.300,-0.640 0.235,-0.585 0.129,-0.528 L0.129,-0.464 C0.205,-0.492 0.262,-0.525 0.313,-0.562 Z"/>
<text x="39.02" y="201.95" font-size="37.5" font-weight="normal" textLength="84.18" lengthAdjust="spacingAndGlyphs">&#x2007;000</text>
<path class="one" transform="translate(60.02,410.25) scale(37.840,37.500)" d="M0.313,0 L0.393,0 L0.393,-0.707 L0.338,-0.707 C0.300,-0.640 0.235,-0.585 0.129,-0.528 L0.129,-0.464 C0.205,-0.492 0.262,-0.525 0.313,-0.562 Z"/>
<text x="60.02" y="410.25" font-size="37.5" font-weight="normal" textLength="63.14" lengthAdjust="spacingAndGlyphs">&#x2007;00</text>
<path class="one" transform="translate(81.12,618.55) scale(37.840,37.500)" d="M0.313,0 L0.393,0 L0.393,-0.707 L0.338,-0.707 C0.300,-0.640 0.235,-0.585 0.129,-0.528 L0.129,-0.464 C0.205,-0.492 0.262,-0.525 0.313,-0.562 Z"/>
<text x="81.12" y="618.55" font-size="37.5" font-weight="normal" textLength="42.09" lengthAdjust="spacingAndGlyphs">&#x2007;0</text>
<path class="one" transform="translate(512.72,201.95) scale(37.840,37.500)" d="M0.313,0 L0.393,0 L0.393,-0.707 L0.338,-0.707 C0.300,-0.640 0.235,-0.585 0.129,-0.528 L0.129,-0.464 C0.205,-0.492 0.262,-0.525 0.313,-0.562 Z"/>
<text x="512.72" y="201.95" font-size="37.5" font-weight="normal" textLength="84.18" lengthAdjust="spacingAndGlyphs">&#x2007;000</text>
<path class="one" transform="translate(533.72,410.25) scale(37.840,37.500)" d="M0.313,0 L0.393,0 L0.393,-0.707 L0.338,-0.707 C0.300,-0.640 0.235,-0.585 0.129,-0.528 L0.129,-0.464 C0.205,-0.492 0.262,-0.525 0.313,-0.562 Z"/>
<text x="533.72" y="410.25" font-size="37.5" font-weight="normal" textLength="63.14" lengthAdjust="spacingAndGlyphs">&#x2007;00</text>
<path class="one" transform="translate(554.82,618.55) scale(37.840,37.500)" d="M0.313,0 L0.393,0 L0.393,-0.707 L0.338,-0.707 C0.300,-0.640 0.235,-0.585 0.129,-0.528 L0.129,-0.464 C0.205,-0.492 0.262,-0.525 0.313,-0.562 Z"/>
<text x="554.82" y="618.55" font-size="37.5" font-weight="normal" textLength="42.09" lengthAdjust="spacingAndGlyphs">&#x2007;0</text>
<path class="one" transform="translate(993.52,201.95) scale(37.840,37.500)" d="M0.313,0 L0.393,0 L0.393,-0.707 L0.338,-0.707 C0.300,-0.640 0.235,-0.585 0.129,-0.528 L0.129,-0.464 C0.205,-0.492 0.262,-0.525 0.313,-0.562 Z"/>
<text x="993.52" y="201.95" font-size="37.5" font-weight="normal" textLength="84.18" lengthAdjust="spacingAndGlyphs">&#x2007;000</text>
<path class="one" transform="translate(1014.52,410.25) scale(37.840,37.500)" d="M0.313,0 L0.393,0 L0.393,-0.707 L0.338,-0.707 C0.300,-0.640 0.235,-0.585 0.129,-0.528 L0.129,-0.464 C0.205,-0.492 0.262,-0.525 0.313,-0.562 Z"/>
<text x="1014.52" y="410.25" font-size="37.5" font-weight="normal" textLength="63.14" lengthAdjust="spacingAndGlyphs">&#x2007;00</text>
<path class="one" transform="translate(1035.62,618.55) scale(37.840,37.500)" d="M0.313,0 L0.393,0 L0.393,-0.707 L0.338,-0.707 C0.300,-0.640 0.235,-0.585 0.129,-0.528 L0.129,-0.464 C0.205,-0.492 0.262,-0.525 0.313,-0.562 Z"/>
<text x="1035.62" y="618.55" font-size="37.5" font-weight="normal" textLength="42.09" lengthAdjust="spacingAndGlyphs">&#x2007;0</text>
<path class="one" transform="translate(37.12,892.85) scale(37.840,37.500)" d="M0.313,0 L0.393,0 L0.393,-0.707 L0.338,-0.707 C0.300,-0.640 0.235,-0.585 0.129,-0.528 L0.129,-0.464 C0.205,-0.492 0.262,-0.525 0.313,-0.562 Z"/>
<text x="37.12" y="892.85" font-size="37.5" font-weight="normal" textLength="84.18" lengthAdjust="spacingAndGlyphs">&#x2007;000</text>
<path class="one" transform="translate(58.12,1101.45) scale(37.840,37.500)" d="M0.313,0 L0.393,0 L0.393,-0.707 L0.338,-0.707 C0.300,-0.640 0.235,-0.585 0.129,-0.528 L0.129,-0.464 C0.205,-0.492 0.262,-0.525 0.313,-0.562 Z"/>
<text x="58.12" y="1101.45" font-size="37.5" font-weight="normal" textLength="63.14" lengthAdjust="spacingAndGlyphs">&#x2007;00</text>
<path class="one" transform="translate(79.22,1310.05) scale(37.840,37.500)" d="M0.313,0 L0.393,0 L0.393,-0.707 L0.338,-0.707 C0.300,-0.640 0.235,-0.585 0.129,-0.528 L0.129,-0.464 C0.205,-0.492 0.262,-0.525 0.313,-0.562 Z"/>
<text x="79.22" y="1310.05" font-size="37.5" font-weight="normal" textLength="42.09" lengthAdjust="spacingAndGlyphs">&#x2007;0</text>
<path class="one" transform="translate(857.62,888.75) scale(37.840,37.500)" d="M0.313,0 L0.393,0 L0.393,-0.707 L0.338,-0.707 C0.300,-0.640 0.235,-0.585 0.129,-0.528 L0.129,-0.464 C0.205,-0.492 0.262,-0.525 0.313,-0.562 Z"/>
<text x="857.62" y="888.75" font-size="37.5" font-weight="normal" textLength="84.18" lengthAdjust="spacingAndGlyphs">&#x2007;000</text>
<path class="one" transform="translate(878.62,1097.15) scale(37.840,37.500)" d="M0.313,0 L0.393,0 L0.393,-0.707 L0.338,-0.707 C0.300,-0.640 0.235,-0.585 0.129,-0.528 L0.129,-0.464 C0.205,-0.492 0.262,-0.525 0.313,-0.562 Z"/>
<text x="878.62" y="1097.15" font-size="37.5" font-weight="normal" textLength="63.14" lengthAdjust="spacingAndGlyphs">&#x2007;00</text>
<path class="one" transform="translate(899.72,1305.55) scale(37.840,37.500)" d="M0.313,0 L0.393,0 L0.393,-0.707 L0.338,-0.707 C0.300,-0.640 0.235,-0.585 0.129,-0.528 L0.129,-0.464 C0.205,-0.492 0.262,-0.525 0.313,-0.562 Z"/>
<text x="899.72" y="1305.55" font-size="37.5" font-weight="normal" textLength="42.09" lengthAdjust="spacingAndGlyphs">&#x2007;0</text>
<path class="one" transform="translate(37.52,1540.45) scale(37.840,37.500)" d="M0.313,0 L0.393,0 L0.393,-0.707 L0.338,-0.707 C0.300,-0.640 0.235,-0.585 0.129,-0.528 L0.129,-0.464 C0.205,-0.492 0.262,-0.525 0.313,-0.562 Z"/>
<text x="37.52" y="1540.45" font-size="37.5" font-weight="normal" textLength="84.18" lengthAdjust="spacingAndGlyphs">&#x2007;000</text>
<path class="one" transform="translate(58.52,1748.85) scale(37.840,37.500)" d="M0.313,0 L0.393,0 L0.393,-0.707 L0.338,-0.707 C0.300,-0.640 0.235,-0.585 0.129,-0.528 L0.129,-0.464 C0.205,-0.492 0.262,-0.525 0.313,-0.562 Z"/>
<text x="58.52" y="1748.85" font-size="37.5" font-weight="normal" textLength="63.14" lengthAdjust="spacingAndGlyphs">&#x2007;00</text>
<path class="one" transform="translate(79.62,1957.25) scale(37.840,37.500)" d="M0.313,0 L0.393,0 L0.393,-0.707 L0.338,-0.707 C0.300,-0.640 0.235,-0.585 0.129,-0.528 L0.129,-0.464 C0.205,-0.492 0.262,-0.525 0.313,-0.562 Z"/>
<text x="79.62" y="1957.25" font-size="37.5" font-weight="normal" textLength="42.09" lengthAdjust="spacingAndGlyphs">&#x2007;0</text>
<path class="one" transform="translate(858.82,1544.75) scale(37.840,37.500)" d="M0.313,0 L0.393,0 L0.393,-0.707 L0.338,-0.707 C0.300,-0.640 0.235,-0.585 0.129,-0.528 L0.129,-0.464 C0.205,-0.492 0.262,-0.525 0.313,-0.562 Z"/>
<text x="858.82" y="1544.75" font-size="37.5" font-weight="normal" textLength="84.18" lengthAdjust="spacingAndGlyphs">&#x2007;000</text>
<path class="one" transform="translate(879.82,1753.35) scale(37.840,37.500)" d="M0.313,0 L0.393,0 L0.393,-0.707 L0.338,-0.707 C0.300,-0.640 0.235,-0.585 0.129,-0.528 L0.129,-0.464 C0.205,-0.492 0.262,-0.525 0.313,-0.562 Z"/>
<text x="879.82" y="1753.35" font-size="37.5" font-weight="normal" textLength="63.14" lengthAdjust="spacingAndGlyphs">&#x2007;00</text>
<path class="one" transform="translate(900.92,1961.95) scale(37.840,37.500)" d="M0.313,0 L0.393,0 L0.393,-0.707 L0.338,-0.707 C0.300,-0.640 0.235,-0.585 0.129,-0.528 L0.129,-0.464 C0.205,-0.492 0.262,-0.525 0.313,-0.562 Z"/>
<text x="900.92" y="1961.95" font-size="37.5" font-weight="normal" textLength="42.09" lengthAdjust="spacingAndGlyphs">&#x2007;0</text>
<text x="123.68" y="656.40" font-size="37.5" font-weight="normal" textLength="21.08" lengthAdjust="spacingAndGlyphs">0</text>
<path class="one" transform="translate(235.76,656.40) scale(38.262,37.500)" d="M0.313,0 L0.393,0 L0.393,-0.707 L0.338,-0.707 C0.300,-0.640 0.235,-0.585 0.129,-0.528 L0.129,-0.464 C0.205,-0.492 0.262,-0.525 0.313,-0.562 Z"/>
<text x="235.76" y="656.40" font-size="37.5" font-weight="normal" textLength="42.56" lengthAdjust="spacingAndGlyphs">&#x2007;0</text>
<text x="355.98" y="656.40" font-size="37.5" font-weight="normal" textLength="42.75" lengthAdjust="spacingAndGlyphs">20</text>
<text x="475.72" y="656.40" font-size="37.5" font-weight="normal" textLength="40.95" lengthAdjust="spacingAndGlyphs">30</text>
<text x="600.08" y="656.40" font-size="37.5" font-weight="normal" textLength="21.08" lengthAdjust="spacingAndGlyphs">0</text>
<path class="one" transform="translate(712.16,656.40) scale(38.262,37.500)" d="M0.313,0 L0.393,0 L0.393,-0.707 L0.338,-0.707 C0.300,-0.640 0.235,-0.585 0.129,-0.528 L0.129,-0.464 C0.205,-0.492 0.262,-0.525 0.313,-0.562 Z"/>
<text x="712.16" y="656.40" font-size="37.5" font-weight="normal" textLength="42.56" lengthAdjust="spacingAndGlyphs">&#x2007;0</text>
<text x="832.38" y="656.40" font-size="37.5" font-weight="normal" textLength="42.75" lengthAdjust="spacingAndGlyphs">20</text>
<text x="952.12" y="656.40" font-size="37.5" font-weight="normal" textLength="40.95" lengthAdjust="spacingAndGlyphs">30</text>
<text x="1077.68" y="656.40" font-size="37.5" font-weight="normal" textLength="21.08" lengthAdjust="spacingAndGlyphs">0</text>
<path class="one" transform="translate(1189.76,656.40) scale(38.262,37.500)" d="M0.313,0 L0.393,0 L0.393,-0.707 L0.338,-0.707 C0.300,-0.640 0.235,-0.585 0.129,-0.528 L0.129,-0.464 C0.205,-0.492 0.262,-0.525 0.313,-0.562 Z"/>
<text x="1189.76" y="656.40" font-size="37.5" font-weight="normal" textLength="42.56" lengthAdjust="spacingAndGlyphs">&#x2007;0</text>
<text x="1309.98" y="656.40" font-size="37.5" font-weight="normal" textLength="42.75" lengthAdjust="spacingAndGlyphs">20</text>
<text x="1429.72" y="656.40" font-size="37.5" font-weight="normal" textLength="40.95" lengthAdjust="spacingAndGlyphs">30</text>
<text x="126.59" y="1347.90" font-size="37.5" font-weight="normal" textLength="20.27" lengthAdjust="spacingAndGlyphs">0</text>
<text x="278.63" y="1347.90" font-size="37.5" font-weight="normal" textLength="41.01" lengthAdjust="spacingAndGlyphs">20</text>
<text x="437.63" y="1347.90" font-size="37.5" font-weight="normal" textLength="42.59" lengthAdjust="spacingAndGlyphs">40</text>
<text x="597.32" y="1347.90" font-size="37.5" font-weight="normal" textLength="42.10" lengthAdjust="spacingAndGlyphs">60</text>
<text x="946.54" y="1343.60" font-size="37.5" font-weight="normal" textLength="20.27" lengthAdjust="spacingAndGlyphs">0</text>
<text x="1098.56" y="1343.60" font-size="37.5" font-weight="normal" textLength="41.01" lengthAdjust="spacingAndGlyphs">20</text>
<text x="1257.54" y="1343.60" font-size="37.5" font-weight="normal" textLength="42.59" lengthAdjust="spacingAndGlyphs">40</text>
<text x="1417.21" y="1343.60" font-size="37.5" font-weight="normal" textLength="42.10" lengthAdjust="spacingAndGlyphs">60</text>
<text x="126.54" y="1995.40" font-size="37.5" font-weight="normal" textLength="20.27" lengthAdjust="spacingAndGlyphs">0</text>
<text x="278.58" y="1995.40" font-size="37.5" font-weight="normal" textLength="41.01" lengthAdjust="spacingAndGlyphs">20</text>
<text x="437.58" y="1995.40" font-size="37.5" font-weight="normal" textLength="42.59" lengthAdjust="spacingAndGlyphs">40</text>
<text x="597.27" y="1995.40" font-size="37.5" font-weight="normal" textLength="42.10" lengthAdjust="spacingAndGlyphs">60</text>
<text x="947.64" y="1999.90" font-size="37.5" font-weight="normal" textLength="20.27" lengthAdjust="spacingAndGlyphs">0</text>
<text x="1099.86" y="1999.90" font-size="37.5" font-weight="normal" textLength="41.01" lengthAdjust="spacingAndGlyphs">20</text>
<text x="1259.04" y="1999.90" font-size="37.5" font-weight="normal" textLength="42.59" lengthAdjust="spacingAndGlyphs">40</text>
<text x="1418.91" y="1999.90" font-size="37.5" font-weight="normal" textLength="42.10" lengthAdjust="spacingAndGlyphs">60</text>
<text x="286.75" y="689.60" font-size="38.5" font-weight="normal" textLength="65.67" lengthAdjust="spacingAndGlyphs">Day</text>
<text x="762.60" y="689.60" font-size="38.5" font-weight="normal" textLength="66.83" lengthAdjust="spacingAndGlyphs">Day</text>
<text x="1240.54" y="689.60" font-size="38.5" font-weight="normal" textLength="65.99" lengthAdjust="spacingAndGlyphs">Day</text>
<text x="349.05" y="1380.70" font-size="38.5" font-weight="normal" textLength="65.67" lengthAdjust="spacingAndGlyphs">Day</text>
<text x="1167.79" y="1378.60" font-size="38.5" font-weight="normal" textLength="66.93" lengthAdjust="spacingAndGlyphs">Day</text>
<text x="347.81" y="2030.70" font-size="38.5" font-weight="normal" textLength="66.62" lengthAdjust="spacingAndGlyphs">Day</text>
<text x="1168.75" y="2033.60" font-size="38.5" font-weight="normal" textLength="65.67" lengthAdjust="spacingAndGlyphs">Day</text>
</g>
</svg>
</body></html>
